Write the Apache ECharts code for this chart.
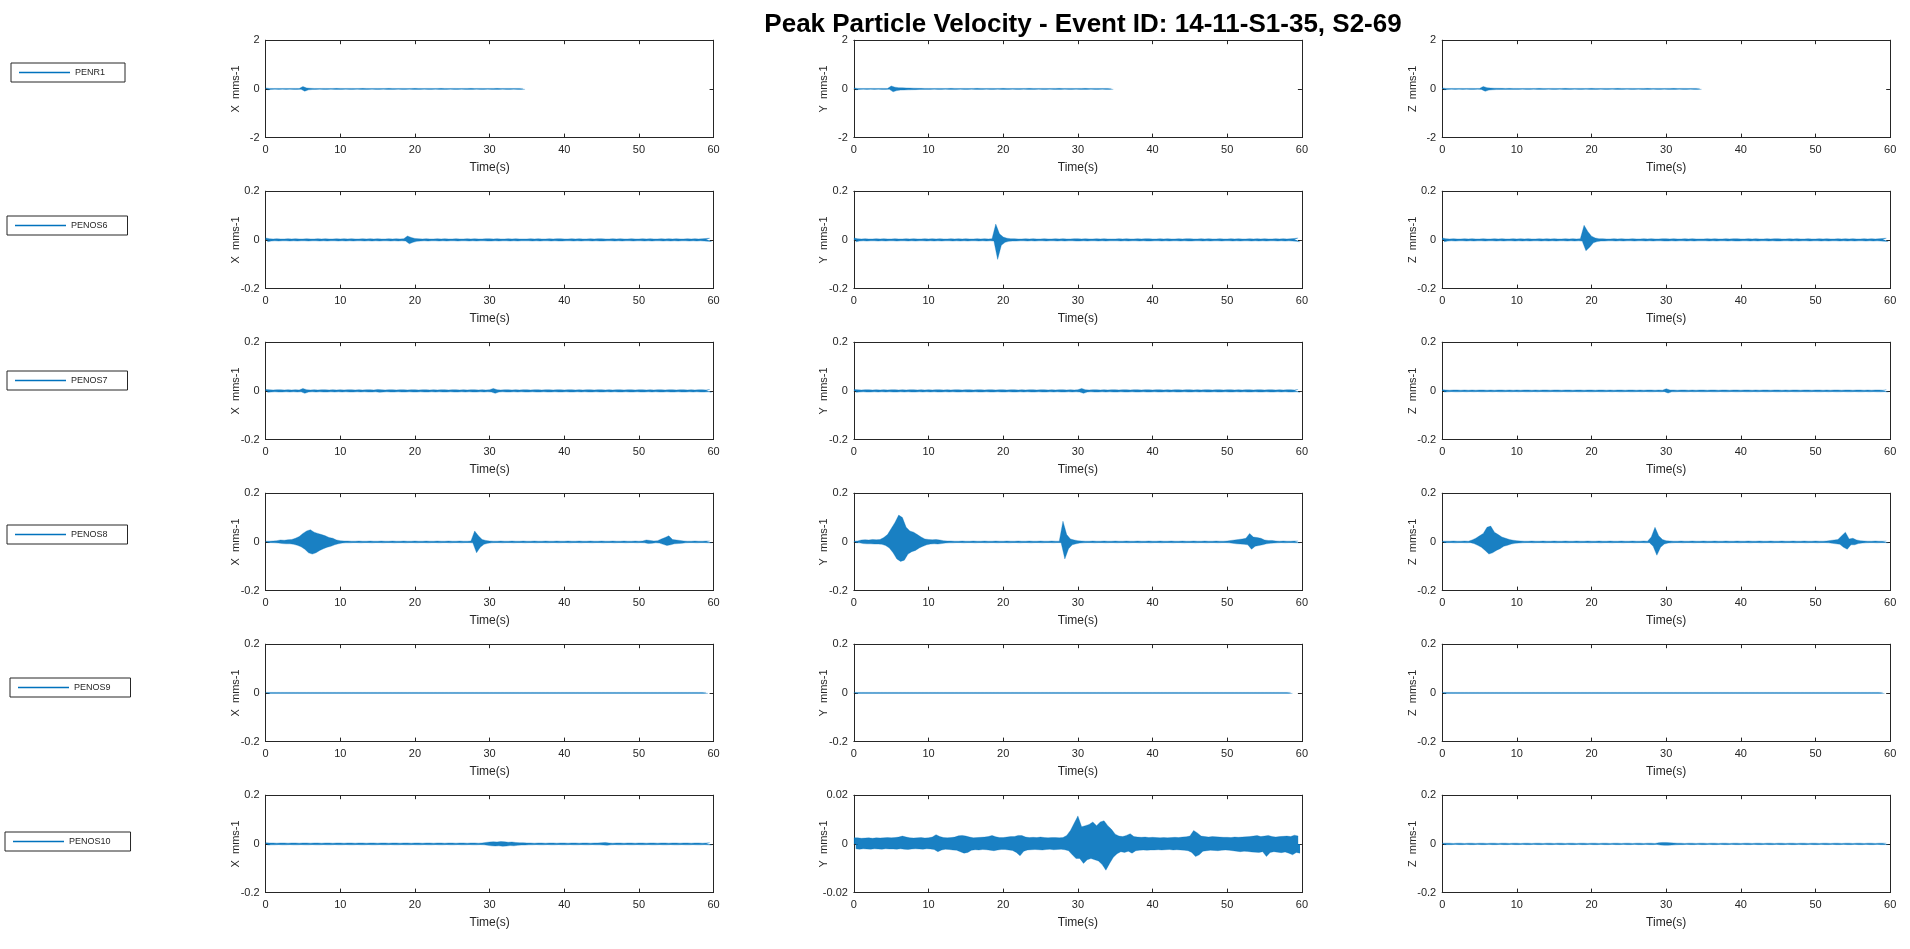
<!DOCTYPE html>
<html>
<head>
<meta charset="utf-8">
<script src="https://cdn.jsdelivr.net/npm/echarts@6/dist/echarts.min.js"></script>
<style>html,body{margin:0;padding:0;background:#fff}#chart{width:1910px;height:949px}</style>
</head>
<body>
<div id="chart"></div>
<script>
// ---------------- DATA ----------------
// Envelope of each velocity trace.
// One value per 0.5 s bin, in micrometres per second (µm/s = 0.001 mm/s).
// *_up = positive peak in the bin, *_lo = size of the negative peak (if omitted, same as *_up).
const BIN_SECONDS = 0.5;
const stationNames = ['PENR1', 'PENOS6', 'PENOS7', 'PENOS8', 'PENOS9', 'PENOS10'];
const componentNames = ['X', 'Y', 'Z'];
const yLimits = [
  [2, 2, 2],
  [0.2, 0.2, 0.2],
  [0.2, 0.2, 0.2],
  [0.2, 0.2, 0.2],
  [0.2, 0.2, 0.2],
  [0.2, 0.02, 0.2]
];
const timeTicks = [0, 10, 20, 30, 40, 50, 60];
const chartTitle = 'Peak Particle Velocity - Event ID: 14-11-S1-35, S2-69';

// PENR1 (recording stops at 35 s)
const penr1_X = [40,20,18,20,18,20,18,20,20,18, 95,40,25,20,18,20,20,18,20,22, 20,18,20,20,18,20,22,20,18,20, 20,18,20,22,20,18,20,20,18,20, 22,20,18,20,20,18,20,22,20,18, 20,20,18,20,20,22,18,20,20,18, 20,20,22,18,20,20,18,20,20,18];
const penr1_Y = [40,20,18,20,18,20,18,20,20,18, 120,70,50,45,40,35,30,25,22,20, 20,18,20,20,18,20,22,20,18,20, 20,18,20,22,20,18,20,20,18,20, 22,20,18,20,20,18,20,22,20,18, 20,20,18,20,20,22,18,20,20,18, 20,20,22,18,20,20,18,20,20,18];
const penr1_Z = [40,20,18,20,18,20,18,20,20,18, 20,100,50,35,28,25,22,20,22,20, 20,18,20,20,18,20,22,20,18,20, 20,18,20,22,20,18,20,20,18,20, 22,20,18,20,20,18,20,22,20,18, 20,20,18,20,20,22,18,20,20,18, 20,20,22,18,20,20,18,20,20,18];

// PENOS6
const penos6_X = [8,5,4,5,4,4,5,4,5,4, 4,5,4,4,5,4,5,4,4,5, 4,5,4,5,4,4,5,4,5,4, 5,4,4,5,4,5,4,5,16,10, 6,5,4,5,4,4,5,4,5,4, 4,5,4,4,5,4,5,4,4,5, 5,4,5,4,4,5,4,5,4,4, 4,5,4,5,4,4,5,4,5,5, 4,4,5,4,5,4,4,5,4,5, 5,4,4,5,4,5,4,4,5,4, 4,5,4,5,4,4,5,4,5,4, 5,4,4,5,4,5,4,5,6,7];
const penos6_Y_up = [8,5,4,5,4,4,5,4,5,4, 4,5,4,4,5,4,5,4,4,5, 4,5,4,5,4,4,5,4,5,4, 5,4,4,5,4,5,4,5,65,25, 12,7,5,5,4,4,5,4,5,4, 4,5,4,4,5,4,5,4,4,5, 5,4,5,4,4,5,4,5,4,4, 4,5,4,5,4,4,5,4,5,5, 4,4,5,4,5,4,4,5,4,5, 5,4,4,5,4,5,4,4,5,4, 4,5,4,5,4,4,5,4,5,4, 5,4,4,5,4,5,4,5,6,8];
const penos6_Y_lo = [8,5,4,5,4,4,5,4,5,4, 4,5,4,4,5,4,5,4,4,5, 4,5,4,5,4,4,5,4,5,4, 5,4,4,5,4,5,4,5,80,22, 10,6,5,5,4,4,5,4,5,4, 4,5,4,4,5,4,5,4,4,5, 5,4,5,4,4,5,4,5,4,4, 4,5,4,5,4,4,5,4,5,5, 4,4,5,4,5,4,4,5,4,5, 5,4,4,5,4,5,4,4,5,4, 4,5,4,5,4,4,5,4,5,4, 5,4,4,5,4,5,4,5,6,8];
const penos6_Z_up = [8,5,4,5,4,4,5,4,5,4, 4,5,4,4,5,4,5,4,4,5, 4,5,4,5,4,4,5,4,5,4, 5,4,4,5,4,5,4,5,60,35, 15,8,5,5,4,4,5,4,5,4, 4,5,4,4,5,4,5,4,4,5, 5,4,5,4,4,5,4,5,4,4, 4,5,4,5,4,4,5,4,5,5, 4,4,5,4,5,4,4,5,4,5, 5,4,4,5,4,5,4,4,5,4, 4,5,4,5,4,4,5,4,5,4, 5,4,4,5,4,5,4,5,6,7];
const penos6_Z_lo = [8,5,4,5,4,4,5,4,5,4, 4,5,4,4,5,4,5,4,4,5, 4,5,4,5,4,4,5,4,5,4, 5,4,4,5,4,5,4,5,45,30, 12,7,5,5,4,4,5,4,5,4, 4,5,4,4,5,4,5,4,4,5, 5,4,5,4,4,5,4,5,4,4, 4,5,4,5,4,4,5,4,5,5, 4,4,5,4,5,4,4,5,4,5, 5,4,4,5,4,5,4,4,5,4, 4,5,4,5,4,4,5,4,5,4, 5,4,4,5,4,5,4,5,6,7];

// PENOS7
const penos7_X = [6,5,4,5,5,4,5,4,5,4, 10,5,4,5,4,5,5,4,5,4, 5,4,5,5,4,5,4,5,5,4, 6,5,4,5,5,4,5,5,4,5, 5,4,5,5,4,5,4,5,5,4, 5,5,4,5,4,5,5,4,5,4, 5,10,5,4,5,5,4,5,4,5, 5,4,5,5,4,5,5,4,5,5, 4,5,5,4,5,4,5,5,4,5, 5,4,5,4,5,5,4,5,5,4, 5,5,4,5,4,5,5,4,5,5, 4,5,5,4,5,4,5,5,4,6];
const penos7_Y = [6,5,4,5,5,4,5,4,5,4, 5,5,4,5,4,5,5,4,5,4, 5,4,5,5,4,5,4,5,5,4, 5,5,4,5,5,4,5,5,4,5, 5,4,5,5,4,5,4,5,5,4, 5,5,4,5,4,5,5,4,5,4, 5,10,5,4,5,5,4,5,4,5, 5,4,5,5,4,5,5,4,5,5, 4,5,5,4,5,4,5,5,4,5, 5,4,5,4,5,5,4,5,5,4, 5,5,4,5,4,5,5,4,5,5, 4,5,5,4,5,4,5,5,4,6];
const penos7_Z = [5,4,3,4,4,3,4,3,4,3, 4,4,3,4,3,4,4,3,4,3, 4,3,4,4,3,4,3,4,4,3, 4,4,3,4,4,3,4,4,3,4, 4,3,4,4,3,4,3,4,4,3, 4,4,3,4,3,4,4,3,4,3, 9,4,4,3,4,4,3,4,3,4, 4,3,4,4,3,4,4,3,4,4, 3,4,4,3,4,3,4,4,3,4, 4,3,4,3,4,4,3,4,4,3, 4,4,3,4,3,4,4,3,4,4, 3,4,4,3,4,3,4,4,3,5];

// PENOS8
const penos8_X_up = [3,3,4,5,8,7,9,10,15,22, 35,45,50,40,35,30,25,18,15,8, 5,4,4,3,3,4,3,3,4,3, 3,4,3,3,4,3,3,4,3,3, 4,3,3,4,3,3,4,3,3,4, 3,3,4,3,3,4,45,25,10,6, 4,3,3,4,3,3,4,3,3,4, 3,3,4,3,3,4,3,3,4,3, 3,4,3,3,4,3,3,4,3,3, 4,3,3,4,3,3,4,3,3,4, 3,4,8,6,4,5,12,18,25,10, 8,6,4,3,3,4,3,3,4,4];
const penos8_X_lo = [3,3,4,5,7,8,8,10,14,20, 30,45,50,45,35,28,22,18,12,8, 5,4,4,3,3,4,3,3,4,3, 3,4,3,3,4,3,3,4,3,3, 4,3,3,4,3,3,4,3,3,4, 3,3,4,3,3,4,45,22,10,6, 4,3,3,4,3,3,4,3,3,4, 3,3,4,3,3,4,3,3,4,3, 3,4,3,3,4,3,3,4,3,3, 4,3,3,4,3,3,4,3,3,4, 3,4,7,6,4,5,10,15,12,8, 7,6,4,3,3,4,3,3,4,4];
const penos8_Y_up = [3,4,8,9,8,10,9,10,18,30, 55,80,110,100,60,45,40,30,20,12, 10,9,10,8,5,4,4,3,3,4, 3,3,4,3,3,4,3,3,4,3, 3,4,3,3,4,3,3,4,3,3, 4,3,3,4,3,3,85,30,12,8, 5,4,3,3,4,3,3,4,3,3, 4,3,3,4,3,3,4,3,3,4, 3,3,4,3,3,4,3,3,4,3, 3,4,3,3,4,3,3,4,3,3, 4,6,8,10,12,15,35,20,18,15, 8,6,6,4,3,4,3,3,4,4];
const penos8_Y_lo = [3,4,7,8,8,9,9,10,15,25, 45,70,80,75,50,40,35,25,18,12, 9,8,9,7,5,4,4,3,3,4, 3,3,4,3,3,4,3,3,4,3, 3,4,3,3,4,3,3,4,3,3, 4,3,3,4,3,3,70,28,12,8, 5,4,3,3,4,3,3,4,3,3, 4,3,3,4,3,3,4,3,3,4, 3,3,4,3,3,4,3,3,4,3, 3,4,3,3,4,3,3,4,3,3, 4,6,8,9,10,12,30,18,15,12, 8,6,5,4,3,4,3,3,4,4];
const penos8_Z_up = [3,3,3,4,3,3,4,3,8,15, 25,35,60,65,40,30,20,15,10,7, 5,4,3,3,4,3,3,4,3,3, 4,3,3,4,3,3,4,3,3,4, 3,3,4,3,3,4,3,3,4,3, 3,4,3,3,4,3,20,60,25,10, 5,4,3,3,4,3,3,4,3,3, 4,3,3,4,3,3,4,3,3,4, 3,3,4,3,3,4,3,3,4,3, 3,4,3,3,4,3,3,4,3,3, 4,3,3,4,6,8,10,25,40,12, 15,8,5,4,3,3,4,3,3,4];
const penos8_Z_lo = [3,3,3,4,3,3,4,3,7,14, 22,35,50,45,35,28,18,14,9,6, 5,4,3,3,4,3,3,4,3,3, 4,3,3,4,3,3,4,3,3,4, 3,3,4,3,3,4,3,3,4,3, 3,4,3,3,4,3,18,55,22,9, 5,4,3,3,4,3,3,4,3,3, 4,3,3,4,3,3,4,3,3,4, 3,3,4,3,3,4,3,3,4,3, 3,4,3,3,4,3,3,4,3,3, 4,3,3,4,6,8,10,22,30,12, 12,7,5,4,3,3,4,3,3,4];

// PENOS9 (almost flat)
const penos9_X = [2,2,2,2,2,2,2,2,2,2, 2,2,2,2,2,2,2,2,2,2, 2,2,2,2,2,2,2,2,2,2, 2,2,2,2,2,2,2,2,2,2, 2,2,2,2,2,2,2,2,2,2, 2,2,2,2,2,2,2,2,2,2, 2,2,2,2,2,2,2,2,2,2, 2,2,2,2,2,2,2,2,2,2, 2,2,2,2,2,2,2,2,2,2, 2,2,2,2,2,2,2,2,2,2, 2,2,2,2,2,2,2,2,2,2, 2,2,2,2,2,2,2,2,2];
const penos9_Y = [2,2,2,2,2,2,2,2,2,2, 2,2,2,2,2,2,2,2,2,2, 2,2,2,2,2,2,2,2,2,2, 2,2,2,2,2,2,2,2,2,2, 2,2,2,2,2,2,2,2,2,2, 2,2,2,2,2,2,2,2,2,2, 2,2,2,2,2,2,2,2,2,2, 2,2,2,2,2,2,2,2,2,2, 2,2,2,2,2,2,2,2,2,2, 2,2,2,2,2,2,2,2,2,2, 2,2,2,2,2,2,2,2,2,2, 2,2,2,2,2,2,2,2];
const penos9_Z = [2,2,2,2,2,2,2,2,2,2, 2,2,2,2,2,2,2,2,2,2, 2,2,2,2,2,2,2,2,2,2, 2,2,2,2,2,2,2,2,2,2, 2,2,2,2,2,2,2,2,2,2, 2,2,2,2,2,2,2,2,2,2, 2,2,2,2,2,2,2,2,2,2, 2,2,2,2,2,2,2,2,2,2, 2,2,2,2,2,2,2,2,2,2, 2,2,2,2,2,2,2,2,2,2, 2,2,2,2,2,2,2,2,2,2, 2,2,2,2,2,2,2,2,2];

// PENOS10
const penos10_X = [5,4,4,3,4,4,3,4,4,3, 4,4,3,4,4,3,4,4,3,4, 4,3,4,4,3,4,4,3,4,4, 3,4,4,3,4,4,3,4,4,3, 4,4,3,4,4,3,4,4,3,4, 4,3,4,4,3,4,4,3,4,6, 8,9,8,10,9,7,8,6,5,5, 4,4,3,4,4,3,4,4,3,4, 4,3,4,4,3,4,4,3,4,4, 5,6,4,3,4,4,3,4,4,3, 4,4,3,4,4,3,4,4,3,4, 4,3,4,4,3,4,4,3,4,5];
const penos10_Y_up = [2.5,2.5,2.3,2.4,2.5,2.3,2.5,2.4,2.5,2.6, 2.5,2.6,2.8,3.2,2.8,2.5,2.4,2.5,2.6,2.4, 2.5,2.8,3.8,3.0,2.6,2.5,2.6,2.8,3.3,3.5, 3.2,2.8,2.5,2.6,2.7,2.8,3.0,3.5,2.9,2.6, 2.6,2.8,3.0,3.0,3.5,3.4,2.8,2.6,2.7,2.6, 2.8,2.6,2.5,2.6,2.6,2.5,2.6,3.5,5.5,8.5, 11.5,7.0,7.5,8.0,9.0,7.5,9.0,9.5,7.5,6.0, 4.0,3.2,3.0,3.5,4.2,3.0,2.8,2.7,2.8,2.6, 2.7,2.6,2.5,2.6,2.5,2.6,2.7,2.6,2.8,2.9, 3.2,5.5,4.5,3.2,3.0,2.8,3.0,2.9,2.8,2.7, 2.7,2.6,2.8,2.7,2.8,2.9,3.0,3.2,3.4,3.0, 3.2,3.5,3.0,2.8,3.0,3.1,3.2,3.0,3.6,3.2];
const penos10_Y_lo = [2.0,2.2,2.0,2.1,2.2,2.0,2.1,2.2,2.0,2.1, 2.1,2.2,2.0,2.2,2.3,2.1,2.0,2.1,2.2,2.0, 2.1,2.3,3.2,2.5,2.2,2.3,2.5,2.6,3.2,3.8, 3.5,2.6,2.4,2.5,2.3,2.4,2.6,2.8,2.5,2.3, 2.3,2.5,2.7,3.5,4.9,3.0,2.5,2.4,2.3,2.4, 2.5,2.3,2.2,2.4,2.3,2.2,2.4,2.8,4.5,6.0, 6.0,8.0,6.5,6.0,6.5,7.0,8.5,10.8,8.0,5.5, 4.0,3.2,3.5,3.0,3.8,2.8,2.6,2.5,2.6,2.5, 2.5,2.4,2.5,2.4,2.3,2.5,2.4,2.5,2.6,2.8, 3.5,5.2,4.5,3.0,2.8,2.6,2.7,2.8,2.6,2.5, 2.6,2.8,3.0,3.2,3.0,3.1,3.3,3.4,3.5,3.2, 5.2,3.5,3.2,3.4,3.6,3.3,3.8,4.5,3.5,3.8];
const penos10_Z = [3,3,3,2,3,3,2,3,3,2, 3,3,2,3,3,2,3,3,2,3, 3,2,3,3,2,3,3,2,3,3, 2,3,3,2,3,3,2,3,3,2, 3,3,2,3,3,2,3,3,2,3, 3,2,3,3,2,3,3,2,5,6, 6,5,4,3,3,2,3,3,2,3, 3,2,3,3,2,3,3,2,3,3, 2,3,3,2,3,3,2,3,3,2, 3,3,2,3,3,2,3,3,2,3, 3,2,3,3,2,3,3,2,3,3, 2,3,3,2,3,3,2,3,3,3];

const tracesUp = [
  [penr1_X, penr1_Y, penr1_Z],
  [penos6_X, penos6_Y_up, penos6_Z_up],
  [penos7_X, penos7_Y, penos7_Z],
  [penos8_X_up, penos8_Y_up, penos8_Z_up],
  [penos9_X, penos9_Y, penos9_Z],
  [penos10_X, penos10_Y_up, penos10_Z]
];
const tracesLo = [
  [penr1_X, penr1_Y, penr1_Z],
  [penos6_X, penos6_Y_lo, penos6_Z_lo],
  [penos7_X, penos7_Y, penos7_Z],
  [penos8_X_lo, penos8_Y_lo, penos8_Z_lo],
  [penos9_X, penos9_Y, penos9_Z],
  [penos10_X, penos10_Y_lo, penos10_Z]
];

// ---------------- LAYOUT / STYLE ----------------
const BLUE = '#0072BD';
const INK = '#262626';
const FONT = 'Liberation Sans, Arial, Helvetica, sans-serif';
const colLeft = [265.6, 853.9, 1442.2];
const gridW = 448;
const gridH = 97.4;
const rowTop0 = 40.2;
const rowStep = 151;
const legendLeft = [11, 7, 7, 7, 10, 5];
const legendTop = [63, 216, 371, 525, 678, 832];

const grids = [], xAxes = [], yAxes = [], series = [], legends = [];
let g = 0;
for (let r = 0; r < stationNames.length; r++) {
  for (let c = 0; c < componentNames.length; c++) {
    grids.push({ left: colLeft[c], top: rowTop0 + r * rowStep, width: gridW, height: gridH });
    const lim = yLimits[r][c];
    const common = {
      gridIndex: g,
      axisLine: { show: true, onZero: false, lineStyle: { color: INK, width: 1 } },
      axisTick: { show: true, inside: true, length: 4, lineStyle: { color: INK, width: 1 } },
      splitLine: { show: false }
    };
    xAxes.push(Object.assign({}, common, {
      type: 'value', position: 'bottom', min: timeTicks[0], max: timeTicks[timeTicks.length - 1],
      interval: timeTicks[1] - timeTicks[0],
      name: 'Time(s)', nameLocation: 'middle', nameGap: 24, nameMoveOverlap: false,
      nameTextStyle: { fontSize: 12, color: INK, fontFamily: FONT },
      axisLabel: { show: true, fontSize: 11, color: INK, fontFamily: FONT, margin: 7 }
    }));
    xAxes.push(Object.assign({}, common, {
      type: 'value', position: 'top', min: timeTicks[0], max: timeTicks[timeTicks.length - 1],
      interval: timeTicks[1] - timeTicks[0], axisLabel: { show: false }
    }));
    yAxes.push(Object.assign({}, common, {
      type: 'value', position: 'left', min: -lim, max: lim, interval: lim,
      name: componentNames[c] + '  mms-1', nameLocation: 'middle', nameGap: 24, nameRotate: 90,
      nameMoveOverlap: false,
      nameTextStyle: { fontSize: 11, color: INK, fontFamily: FONT },
      axisLabel: { show: true, fontSize: 11, color: INK, fontFamily: FONT, margin: 6 }
    }));
    yAxes.push(Object.assign({}, common, {
      type: 'value', position: 'right', min: -lim, max: lim, interval: lim, axisLabel: { show: false }
    }));
    const up = tracesUp[r][c], lo = tracesLo[r][c];
    const base = {
      type: 'line', xAxisIndex: 2 * g, yAxisIndex: 2 * g, symbol: 'none', showSymbol: false,
      silent: true, animation: false, clip: true,
      lineStyle: { color: BLUE, width: 0.5, opacity: 0.6 },
      itemStyle: { color: BLUE },
      areaStyle: { color: BLUE, opacity: 0.9, origin: 'auto' }
    };
    series.push(Object.assign({}, base, {
      name: c === 0 ? stationNames[r] : stationNames[r] + ' ' + componentNames[c],
      data: up.map((v, i) => [i * BIN_SECONDS, v / 1000])
    }));
    series.push(Object.assign({}, base, {
      name: stationNames[r] + ' ' + componentNames[c] + ' neg',
      data: lo.map((v, i) => [i * BIN_SECONDS + BIN_SECONDS / 2, -v / 1000])
    }));
    g++;
  }
  legends.push({
    data: [stationNames[r]], left: legendLeft[r], top: legendTop[r],
    orient: 'horizontal', icon: 'rect', itemWidth: 51, itemHeight: 1.3,
    itemStyle: { color: BLUE }, selectedMode: false,
    padding: [5, 20, 5, 8], borderColor: INK, borderWidth: 1, backgroundColor: '#fff',
    textStyle: { fontSize: 9, color: INK, fontFamily: FONT }
  });
}

const chart = echarts.init(document.getElementById('chart'), null, { renderer: 'canvas' });
chart.setOption({
  backgroundColor: '#ffffff',
  animation: false,
  title: {
    text: chartTitle, left: 1078, top: 7, textAlign: 'center',
    textStyle: { fontSize: 26, fontWeight: 'bold', color: '#000', fontFamily: FONT }
  },
  legend: legends,
  grid: grids,
  xAxis: xAxes,
  yAxis: yAxes,
  series: series
});
</script>
</body>
</html>
